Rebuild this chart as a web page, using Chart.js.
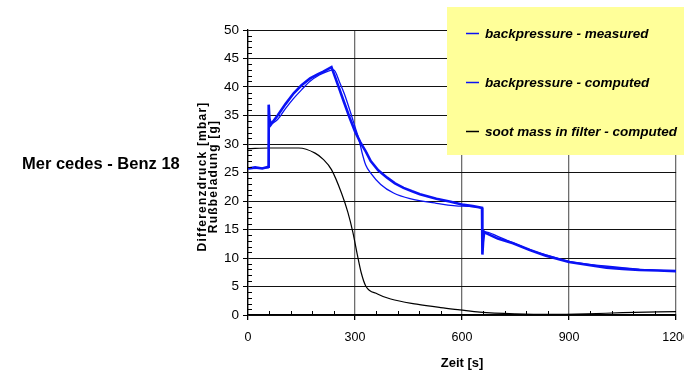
<!DOCTYPE html>
<html>
<head>
<meta charset="utf-8">
<script src="https://cdn.jsdelivr.net/npm/chart.js@4.4.1/dist/chart.umd.min.js"></script>
<style>
    body { margin: 0; overflow: hidden; background: #ffffff; }
    #wrap { width: 700px; height: 371px; }
</style>
</head>
<body>
<div id="wrap"><canvas id="chart"></canvas></div>
<script>
// Zeit [s] / Differenzdruck [mbar]
var tMeasured = [0, 20, 40, 57, 58, 60, 64, 83, 105, 128, 150, 174, 195, 211, 234, 245, 257, 270, 285, 300,
    315, 330, 344, 365, 390, 412, 436, 460, 482, 528, 565, 600, 630, 656, 657, 659, 662, 666, 700, 743,
    790, 835, 900, 950, 1005, 1050, 1097, 1150, 1200];
var measured = [25.7, 25.9, 25.7, 26.0, 36.9, 34.5, 33.4, 35.0, 37.0, 38.9, 40.3, 41.5, 42.2, 42.7, 43.5, 41.6, 39.5, 37.2, 34.6, 32.2,
    30.3, 28.7, 27.0, 25.4, 24.1, 23.1, 22.3, 21.7, 21.2, 20.4, 19.9, 19.4, 19.1, 18.8, 10.6, 12.8, 14.6, 14.4, 13.4, 12.6,
    11.4, 10.4, 9.3, 8.8, 8.3, 8.1, 7.9, 7.8, 7.7];

var tComputed = [0, 57, 58, 64, 83, 105, 128, 150, 174, 200, 225, 240, 257, 270, 285, 300, 311, 320, 330, 344, 372,
    408, 454, 528, 600, 656, 657, 665, 700, 730, 760, 800, 850, 900, 1000, 1100, 1200];
var computed = [25.7, 25.8, 33.4, 33.6, 34.3, 36.2, 38.0, 39.5, 41.0, 42.1, 42.8, 43.0, 40.8, 38.8, 36.0, 33.0, 30.8, 28.4, 26.3, 24.9, 22.9,
    21.4, 20.4, 19.6, 19.1, 18.7, 14.7, 14.6, 13.8, 13.0, 12.2, 11.2, 10.3, 9.4, 8.6, 8.0, 7.7];

// Rußbeladung [g]
var tSoot = [0, 60, 100, 142, 188, 211, 234, 262, 280, 294, 307, 317, 330, 363, 400, 473, 540, 594, 650, 750, 850, 950, 1050, 1200];
var soot = [29.2, 29.3, 29.3, 29.3, 28.4, 27.3, 25.5, 21.4, 18.0, 14.5, 10.4, 7.5, 5.1, 3.7, 2.8, 1.9, 1.3, 0.9, 0.5, 0.2, 0.1, 0.2, 0.4, 0.6];

var seriesNames = ['backpressure - measured', 'backpressure - computed', 'soot mass in filter - computed'];
var chartTitle = 'Mer cedes - Benz 18';
var yAxisLines = ['Differenzdruck [mbar]', 'Rußbeladung [g]'];
var xAxisName = 'Zeit [s]';

var BLUE = '#0a12f5';

function toPoints(xs, ys) {
    var pts = [];
    for (var i = 0; i < xs.length; i++) {
        pts.push({ x: xs[i], y: ys[i] });
    }
    return pts;
}

// minor ticks, y title, left title, yellow legend box
var decorations = {
    id: 'decorations',
    afterDatasetsDraw: function (chart) {
        var ctx = chart.ctx;
        var area = chart.chartArea;
        var xs = chart.scales.x;
        var ys = chart.scales.y;
        ctx.save();

        ctx.strokeStyle = '#000';
        ctx.lineWidth = 1;
        ctx.beginPath();
        for (var v = 1; v < 50; v++) {
            if (v % 5 == 0) continue;
            var py = Math.round(ys.getPixelForValue(v)) + 0.5;
            ctx.moveTo(area.left, py);
            ctx.lineTo(area.left + 4, py);
        }
        for (var t = 60; t < 1200; t += 60) {
            if (t % 300 == 0) continue;
            var px = Math.round(xs.getPixelForValue(t)) + 0.5;
            ctx.moveTo(px, area.bottom);
            ctx.lineTo(px, area.bottom - 4);
        }
        ctx.stroke();

        // rotated y title, two lines
        ctx.fillStyle = '#000';
        ctx.font = 'bold 12px "Liberation Sans", Arial, sans-serif';
        ctx.letterSpacing = '1.2px';
        ctx.textAlign = 'center';
        ctx.textBaseline = 'middle';
        var midY = (area.top + area.bottom) / 2 + 4;
        ctx.save();
        ctx.translate(203, midY);
        ctx.rotate(-Math.PI / 2);
        ctx.fillText(yAxisLines[0], 0, 0);
        ctx.restore();
        ctx.save();
        ctx.translate(214, midY);
        ctx.rotate(-Math.PI / 2);
        ctx.fillText(yAxisLines[1], 0, 0);
        ctx.restore();
        ctx.letterSpacing = '0px';

        // left title
        ctx.font = 'bold 16.5px "Liberation Sans", Arial, sans-serif';
        ctx.textAlign = 'left';
        ctx.textBaseline = 'alphabetic';
        ctx.fillText(chartTitle, 22, 169);

        // legend box
        ctx.fillStyle = '#ffff99';
        ctx.fillRect(447, 7, 260, 148);
        var rows = [33, 82, 131];
        ctx.font = 'italic bold 13.5px "Liberation Sans", Arial, sans-serif';
        ctx.textBaseline = 'middle';
        for (var i = 0; i < chart.data.datasets.length; i++) {
            var ds = chart.data.datasets[i];
            ctx.strokeStyle = ds.borderColor;
            ctx.lineWidth = 1.5;
            ctx.beginPath();
            ctx.moveTo(466, rows[i] + 0.5);
            ctx.lineTo(479, rows[i] + 0.5);
            ctx.stroke();
            ctx.fillStyle = '#000';
            ctx.fillText(ds.label, 485, rows[i] + 1);
        }
        ctx.restore();
    }
};

var datasets = [
    { label: seriesNames[0], data: toPoints(tMeasured, measured), borderColor: BLUE, borderWidth: 2.6 },
    { label: seriesNames[1], data: toPoints(tComputed, computed), borderColor: BLUE, borderWidth: 1.3, cubicInterpolationMode: 'monotone' },
    { label: seriesNames[2], data: toPoints(tSoot, soot), borderColor: '#000000', borderWidth: 1.2, cubicInterpolationMode: 'monotone' }
];

var options = {
    responsive: true,
    maintainAspectRatio: false,
    animation: false,
    layout: {
        padding: { left: 0, top: 30, right: 20, bottom: 0 }
    },
    elements: {
        point: { radius: 0 }
    },
    plugins: {
        legend: { display: false },
        tooltip: { enabled: false }
    },
    scales: {
        x: {
            type: 'linear',
            min: 0,
            max: 1200,
            afterFit: function (scale) { scale.height = 56; },
            ticks: {
                stepSize: 300,
                padding: 10,
                color: '#000',
                maxRotation: 0,
                callback: function (value) { return String(value); },
                font: { family: '"Liberation Sans", Arial', size: 12.5 }
            },
            grid: { color: '#6e6e6e', lineWidth: 1.3, tickLength: 5, tickColor: '#000' },
            border: { color: '#000', width: 1.3 },
            title: {
                display: true,
                text: xAxisName,
                color: '#000',
                padding: { top: 4, bottom: 0 },
                font: { family: '"Liberation Sans", Arial', size: 13, weight: 'bold' }
            }
        },
        y: {
            min: 0,
            max: 50,
            afterFit: function (scale) { scale.width = 248; },
            ticks: {
                stepSize: 5,
                padding: 4,
                color: '#000',
                font: { family: '"Liberation Sans", Arial', size: 13.5 }
            },
            grid: { color: '#111111', lineWidth: 1, tickLength: 5, tickColor: '#000' },
            border: { color: '#000', width: 1.3 }
        }
    }
};

new Chart(document.getElementById('chart'), {
    type: 'line',
    data: { datasets: datasets },
    options: options,
    plugins: [decorations]
});
</script>
</body>
</html>
